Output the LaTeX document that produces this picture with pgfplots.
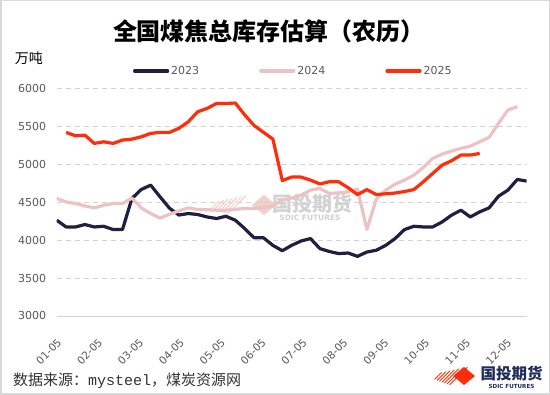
\documentclass[border=0pt]{standalone}
\usepackage{pgfplots}
\pgfplotsset{compat=1.18}
\usepackage{fontspec}
\setmainfont{DejaVu Sans}
\newfontfamily\cjk{Noto Sans CJK SC}
\newfontfamily\mono{Liberation Mono}
\definecolor{c23}{HTML}{1F1F3F}
\definecolor{c24}{HTML}{EBC3C3}
\definecolor{c25}{HTML}{FF2D0A}
\definecolor{gridc}{HTML}{D3D3D3}
\definecolor{tickc}{HTML}{595959}
\definecolor{wm}{HTML}{D2D2D2}
\definecolor{wmp}{HTML}{F4CFC8}
\definecolor{logoc}{HTML}{1E2D5A}

\pgfplotstableread{
x y
0 4262
1 4173
2 4173
3 4205
4 4173
5 4182
6 4139
7 4139
8 4548
9 4667
10 4724
11 4569
12 4420
13 4330
14 4350
15 4337
16 4305
17 4284
18 4314
19 4262
20 4152
21 4030
22 4030
23 3930
24 3860
25 3931
26 3988
27 4020
28 3888
29 3850
30 3822
31 3830
32 3786
33 3843
34 3866
35 3931
36 4020
37 4139
38 4182
39 4173
40 4173
41 4239
42 4328
43 4394
44 4305
45 4372
46 4424
47 4578
48 4658
49 4799
50 4777
}\tA

\pgfplotstableread{
x y
0 4548
1 4503
2 4482
3 4450
4 4424
5 4459
6 4482
7 4482
8 4555
9 4424
10 4350
11 4290
12 4340
13 4384
14 4424
15 4403
16 4400
17 4394
18 4394
19 4405
20 4416
21 4416
22 4430
23 4450
24 4526
25 4555
26 4592
27 4658
28 4680
29 4614
30 4623
31 4636
32 4670
33 4140
34 4540
35 4658
36 4737
37 4790
38 4856
39 4957
40 5076
41 5133
42 5172
43 5208
44 5238
45 5295
46 5353
47 5538
48 5714
49 5757
}\tB

\pgfplotstableread{
x y
1 5419
2 5374
3 5383
4 5274
5 5295
6 5274
7 5318
8 5330
9 5361
10 5406
11 5419
12 5419
13 5472
14 5559
15 5691
16 5735
17 5800
18 5800
19 5806
20 5650
21 5510
22 5420
23 5330
24 4785
25 4830
26 4830
27 4790
28 4740
29 4768
30 4768
31 4690
32 4600
33 4665
34 4600
35 4610
36 4620
37 4640
38 4665
39 4768
40 4878
41 4988
42 5045
43 5120
44 5120
45 5142
}\tC

\begin{document}
\begin{tikzpicture}[x=1pt,y=1pt]
\path[use as bounding box] (0,0) rectangle (550,395);
\fill[white] (0,0) rectangle (550,395);
\draw[line width=1.5pt, color=black!15] (0.75,0.75) rectangle (549.25,394.25);

% watermark
\foreach \k in {0,...,6} {
  \pgfmathsetmacro{\xb}{215+3.6*\k}
  \pgfmathsetmacro{\h}{4+0.9*\k}
  \draw[wmp, line width=1pt] (\xb-\h,190-\h) -- (\xb+\h,190+\h);
}
\fill[wmp] (252,190) -- (264,200) -- (276,190) -- (264,180) -- cycle;
\node[wm, font=\cjk\bfseries\fontsize{20}{22}\selectfont, inner sep=0pt] at (312,191) {国投期货};
\node[wm, font=\bfseries\fontsize{7.5}{8}\selectfont, inner sep=0pt] at (310,177) {SDIC FUTURES};

\begin{axis}[
  at={(56.7pt,79pt)}, anchor=south west,
  width=470pt, height=227.7pt, scale only axis,
  xmin=0, xmax=50, ymin=3000, ymax=6000,
  axis x line*=bottom, axis y line*=left,
  x axis line style={draw=gridc, line width=0.8pt, -},
  y axis line style={draw=none},
  major tick length=0pt,
  ytick={3000,3500,4000,4500,5000,5500,6000},
  ymajorgrids,
  grid style={draw=gridc, line width=0.8pt, dash pattern=on 5pt off 4pt},
  xtick={0,4.35,8.7,13.05,17.4,21.75,26.1,30.45,34.8,39.15,43.5,47.85},
  xticklabels={01-05,02-05,03-05,04-05,05-05,06-05,07-05,08-05,09-05,10-05,11-05,12-05},
  xticklabel style={font=\fontsize{10.5}{12}\selectfont, text=tickc, yshift=-17pt, rotate=45, anchor=north east},
  yticklabel style={font=\fontsize{11}{12}\selectfont, text=tickc, anchor=east, xshift=-7pt},
  /pgf/number format/assume math mode=true,
  /pgf/number format/1000 sep={},
  legend columns=3,
  legend style={at={(0.162,1.076)}, anchor=west, draw=none, fill=none, inner sep=0pt,
    font=\fontsize{11}{12}\selectfont, text=tickc,
    /tikz/every even column/.append style={column sep=58pt}},
  legend image code/.code={\draw[#1, line cap=round] (0pt,0pt) -- (33pt,0pt);},
  every axis plot/.append style={line width=3.2pt, line join=round},
]
\addplot[c23] table[x=x,y=y] {\tA};
\addlegendentry{2023}
\addplot[c24] table[x=x,y=y] {\tB};
\addlegendentry{2024}
\addplot[c25] table[x=x,y=y] {\tC};
\addlegendentry{2025}
\end{axis}

% title and labels
\node[font=\cjk\bfseries\fontsize{24}{28}\selectfont, inner sep=0pt] at (269,364) {全国煤焦总库存估算（农历）};
\node[font=\cjk\fontsize{14}{16}\selectfont, inner sep=0pt] at (29,337) {万吨};
\node[anchor=west, inner sep=0pt, text=black!80, font=\fontsize{15}{17}\selectfont] at (13,14) {\cjk 数据来源：\mono mysteel\cjk ，煤炭资源网};

% logo
\foreach \k in {0,...,6} {
  \pgfmathsetmacro{\xb}{438+3.4*\k}
  \pgfmathsetmacro{\h}{3.5+0.9*\k}
  \draw[c25, line width=0.9pt] (\xb-\h,19-\h) -- (\xb+\h,19+\h);
}
\fill[c25] (453,19) -- (464,28) -- (475,19) -- (464,10) -- cycle;
\node[logoc, font=\cjk\bfseries\fontsize{15.5}{17}\selectfont, inner sep=0pt] at (511.5,21) {国投期货};
\node[logoc, font=\bfseries\fontsize{5.6}{6}\selectfont, inner sep=0pt] at (511.5,8.5) {SDIC FUTURES};
\end{tikzpicture}
\end{document}
